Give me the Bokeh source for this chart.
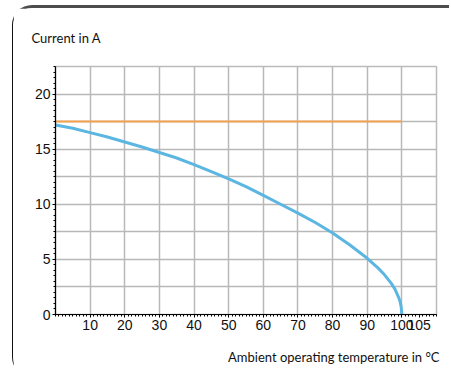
from bokeh.plotting import figure
from bokeh.models import Range1d, FixedTicker, Title
from bokeh.embed import file_html
from bokeh.resources import INLINE

# Data
temp_curve = [0, 5, 10, 15, 20, 25, 30, 35, 40, 45, 50, 55, 60, 65, 70, 75, 80, 85, 90, 93, 95, 97, 98, 99, 99.5, 99.8, 100]
current_curve = [17.2, 16.9, 16.5, 16.1, 15.65, 15.2, 14.7, 14.2, 13.6, 12.97, 12.3, 11.6, 10.8, 10.0, 9.2, 8.35, 7.4, 6.3, 5.1, 4.25, 3.6, 2.8, 2.3, 1.6, 1.15, 0.7, 0.0]
temp_limit = [0, 100]
current_limit = [17.5, 17.5]
x_ticks = [10, 20, 30, 40, 50, 60, 70, 80, 90, 100, 105]
y_ticks = [0, 5, 10, 15, 20]
x_grid = [10, 20, 30, 40, 50, 60, 70, 80, 90, 100, 110]
y_grid = [2.5, 5, 7.5, 10, 12.5, 15, 17.5, 20, 22.5]
y_title = "Current in A"
x_title = "Ambient operating temperature in °C"

p = figure(width=437, height=372, output_backend="svg", toolbar_location=None,
           x_range=Range1d(0, 110), y_range=Range1d(0, 22.5),
           min_border_left=42, min_border_right=14, min_border_top=58, min_border_bottom=66)

p.background_fill_color = "white"
p.border_fill_color = "white"
p.outline_line_color = "#bbbbbb"
p.outline_line_width = 1.5

p.title.text = y_title
p.title.align = "left"
p.title.vertical_align = "top"
p.title.offset = -24
p.title.standoff = 37
p.title.text_font = "Lato"
p.title.text_font_size = "13px"
p.title.text_font_style = "normal"
p.title.text_color = "#111111"

p.add_layout(Title(text=x_title, align="right", offset=-3, standoff=28,
                   text_font="Lato", text_font_size="13px", text_font_style="normal",
                   text_color="#111111"), "below")

p.xgrid.ticker = FixedTicker(ticks=x_grid)
p.ygrid.ticker = FixedTicker(ticks=y_grid)
for g in (p.xgrid, p.ygrid):
    g.grid_line_color = "#b8b8b8"
    g.grid_line_width = 1.5

p.xaxis.ticker = FixedTicker(ticks=x_ticks, minor_ticks=[i for i in range(0, 111)])
p.yaxis.ticker = FixedTicker(ticks=y_ticks, minor_ticks=[i * 0.5 for i in range(0, 46)])
for ax in (p.xaxis, p.yaxis):
    ax.axis_line_color = "black"
    ax.axis_line_width = 1.2
    ax.major_tick_line_color = "black"
    ax.major_tick_out = 3
    ax.major_tick_in = 0
    ax.minor_tick_line_color = "black"
    ax.minor_tick_out = 2
    ax.minor_tick_in = 0
    ax.major_label_text_font = "Liberation Sans"
    ax.major_label_text_font_size = "14px"
    ax.major_label_text_color = "#111111"
p.xaxis.major_label_standoff = 2
p.yaxis.major_label_standoff = 2

p.line(temp_limit, current_limit, line_color="#f2a24e", line_width=2)
p.line(temp_curve, current_curve, line_color="#5cb6e2", line_width=3)

p.styles = {
    "margin-left": "12px",
    "margin-top": "5px",
    "border-top": "3px solid #4d4d4d",
    "border-left": "1.5px solid #111111",
    "border-top-left-radius": "20px",
    "border-bottom-left-radius": "20px",
}

open("out.html", "w").write(file_html(p, INLINE))
